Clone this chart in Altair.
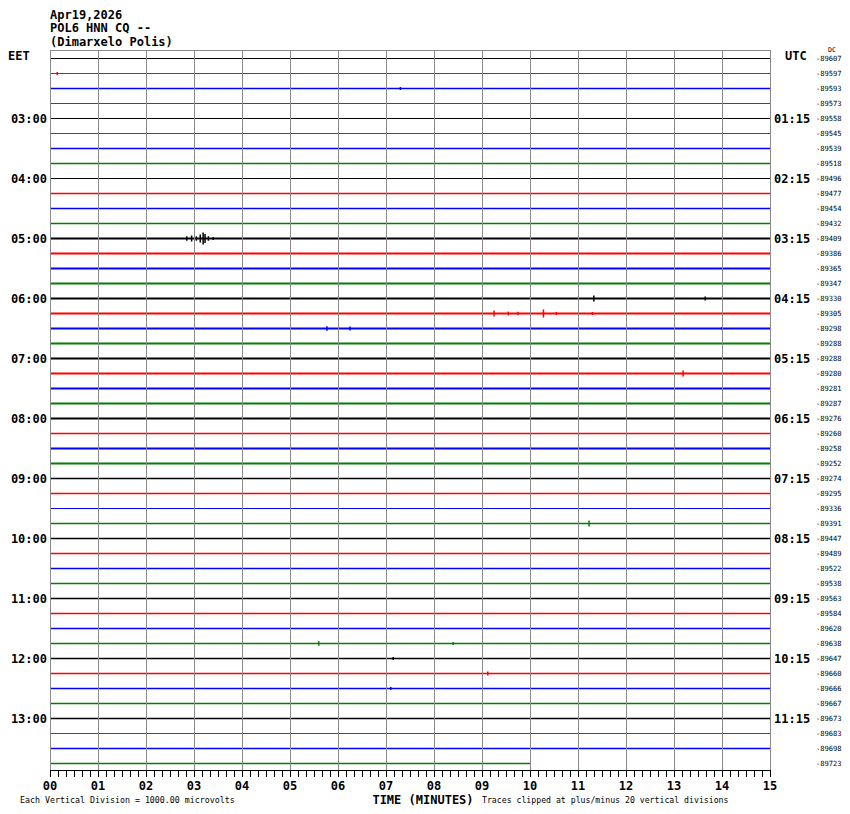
import altair as alt
import pandas as pd

MONO = "DejaVu Sans Mono"

# ---------------- data ----------------
title_lines = ["Apr19,2026", "POL6 HNN CQ --", "(Dimarxelo Polis)"]
n_rows = 48
minutes_per_row = 15
last_row_end = 10
trace_colors = ["#000000", "#ff0000", "#0000ff", "#007f00"]
minute_labels = list(range(0, 16))
tick_minutes = [i / 6 for i in range(0, 91)]

eet_rows = [4, 8, 12, 16, 20, 24, 28, 32, 36, 40, 44]
eet_labels = ["03:00", "04:00", "05:00", "06:00", "07:00", "08:00",
              "09:00", "10:00", "11:00", "12:00", "13:00"]
utc_labels = ["01:15", "02:15", "03:15", "04:15", "05:15", "06:15",
              "07:15", "08:15", "09:15", "10:15", "11:15"]

dc_values = [-89607, -89597, -89593, -89573, -89558, -89545, -89539, -89518,
             -89496, -89477, -89454, -89432, -89409, -89386, -89365, -89347,
             -89330, -89305, -89298, -89288, -89288, -89280, -89281, -89287,
             -89276, -89260, -89258, -89252, -89274, -89295, -89336, -89391,
             -89447, -89489, -89522, -89538, -89563, -89584, -89620, -89638,
             -89647, -89660, -89666, -89667, -89673, -89683, -89698, -89723]

# background noise level of each trace (0 quiet .. 1 noisy)
noise_level = [0, 0, 0.3, 0, 0, 0, 0.3, 0.3, 0, 0.3, 0.3, 0.3,
               1, 1, 1, 1, 1, 1, 1, 1, 1, 1, 1, 1,
               1, 0.6, 1, 1, 0.6, 0.6, 0.2, 0.3,
               0.3, 0.3, 0.5, 0.3, 0.5, 0.3, 0.5, 0.5,
               0.5, 0.3, 0.5, 0.5, 0.3, 0.2, 0.5, 0.5]

# individual spikes: trace row, minute, half amplitude (in trace spacings)
spike_rows = [12, 12, 12, 12, 12, 12, 12, 12,
              17, 17, 17, 17, 17, 17,
              16, 16, 18, 18, 18, 21, 31, 39, 39, 40, 41, 1, 2, 42]
spike_minutes = [2.85, 2.95, 3.05, 3.13, 3.19, 3.23, 3.30, 3.40,
                 9.25, 9.55, 9.75, 10.28, 10.55, 11.30,
                 11.33, 13.65, 5.77, 6.25, 14.00, 13.19, 11.23, 5.60, 8.40,
                 7.15, 9.12, 0.15, 7.30, 7.10]
spike_amps = [0.15, 0.20, 0.15, 0.27, 0.40, 0.30, 0.15, 0.10,
              0.20, 0.13, 0.12, 0.27, 0.10, 0.10,
              0.20, 0.13, 0.15, 0.13, 0.10, 0.20, 0.20, 0.15, 0.10,
              0.10, 0.13, 0.10, 0.10, 0.10]

# ---------------- tables ----------------
rows = list(range(n_rows))
traces = pd.DataFrame({
    "row": rows,
    "start": [0] * n_rows,
    "end": [minutes_per_row] * (n_rows - 1) + [last_row_end],
    "col": [str(r % 4) for r in rows],
    "noise": noise_level,
})
spikes = pd.DataFrame({"row": spike_rows, "minute": spike_minutes, "amp": spike_amps})
spikes["lo"] = spikes["row"] - spikes["amp"]
spikes["hi"] = spikes["row"] + spikes["amp"]
spikes["col"] = (spikes["row"] % 4).astype(str)

grid = pd.DataFrame({"minute": minute_labels, "t": [f"{m:02d}" for m in minute_labels]})
ticks = pd.DataFrame({"minute": tick_minutes})
left_lab = pd.DataFrame({"row": eet_rows, "t": eet_labels})
right_lab = pd.DataFrame({"row": eet_rows, "t": utc_labels})
dc_lab = pd.DataFrame({"row": rows, "t": [str(v) for v in dc_values]})

W, H = 720, 720
xscale = alt.Scale(domain=[0, 15], nice=False, zero=False)
yscale = alt.Scale(domain=[-8.5 / 15, (H - 8.5) / 15], nice=False, zero=False, reverse=True)
cscale = alt.Scale(domain=["0", "1", "2", "3"], range=trace_colors)

X = lambda f: alt.X(f, scale=xscale, axis=None, title=None)
Y = lambda f: alt.Y(f, scale=yscale, axis=None, title=None)

trace_layer = alt.Chart(traces).mark_rule().encode(
    x=X("start:Q"), x2="end:Q", y=Y("row:Q"),
    color=alt.Color("col:N", scale=cscale, legend=None),
    size=alt.Size("noise:Q", scale=alt.Scale(domain=[0, 1], range=[1, 2]), legend=None),
)

spike_layer = alt.Chart(spikes).mark_rule(strokeWidth=1.5).encode(
    x=X("minute:Q"), y=Y("lo:Q"), y2="hi:Q",
    color=alt.Color("col:N", scale=cscale, legend=None),
)

grid_layer = alt.Chart(grid).mark_rule(color="#8a8a8a", strokeWidth=1, xOffset=0.5).encode(
    x=X("minute:Q"), y=alt.value(0), y2=alt.value(H),
)

tick_layer = alt.Chart(ticks).mark_rule(color="black", strokeWidth=1, xOffset=0.5).encode(
    x=X("minute:Q"), y=alt.value(H), y2=alt.value(H + 7),
)

domain_layer = alt.Chart(pd.DataFrame({"a": [0]})).mark_rule(color="black", strokeWidth=1, yOffset=0.5).encode(
    x=alt.value(0), x2=alt.value(W + 1), y=alt.value(H),
)

xlabel_layer = alt.Chart(grid).mark_text(
    font=MONO, fontSize=12, fontWeight="bold", align="center", baseline="middle", color="black"
).encode(x=X("minute:Q"), y=alt.value(H + 16), text="t:N")

left_layer = alt.Chart(left_lab).mark_text(
    font=MONO, fontSize=12, fontWeight="bold", align="right", baseline="middle", color="black"
).encode(x=alt.value(-3), y=Y("row:Q"), text="t:N")

right_layer = alt.Chart(right_lab).mark_text(
    font=MONO, fontSize=12, fontWeight="bold", align="left", baseline="middle", color="black"
).encode(x=alt.value(724), y=Y("row:Q"), text="t:N")

dc_layer = alt.Chart(dc_lab).mark_text(
    font=MONO, fontSize=7.1, align="left", baseline="middle", color="black"
).encode(x=alt.value(766), y=Y("row:Q"), text="t:N")


def note(text, x, y, size, weight="normal", align="left"):
    return alt.Chart(pd.DataFrame({"t": [text]})).mark_text(
        font=MONO, fontSize=size, fontWeight=weight, align=align,
        baseline="middle", color="black"
    ).encode(x=alt.value(x), y=alt.value(y), text="t:N")


notes = [
    note(title_lines[0], 0, -35.5, 12, "bold"),
    note(title_lines[1], 0, -22, 12, "bold"),
    note(title_lines[2], 0, -8, 12, "bold"),
    note("EET", -42, 6, 12, "bold"),
    note("UTC", 735, 6, 12, "bold"),
    note("DC", 778, 0, 6.5),
    note("Each Vertical Division = 1000.00 microvolts", -30, 751, 8.3),
    note("TIME (MINUTES)", 373, 750, 12, "bold", "center"),
    note("Traces clipped at plus/minus 20 vertical divisions", 432, 751, 8.2),
]

chart = alt.layer(
    trace_layer, spike_layer, grid_layer, tick_layer, domain_layer, xlabel_layer,
    left_layer, right_layer, dc_layer, *notes
).properties(
    width=W, height=H,
    autosize=alt.AutoSizeParams(type="none"),
    padding={"left": 42, "top": 42, "right": 72, "bottom": 36},
    background="white",
).configure_view(stroke="#8a8a8a", strokeWidth=1)

chart.save("out.html", embed_options={"renderer": "svg", "actions": False})
